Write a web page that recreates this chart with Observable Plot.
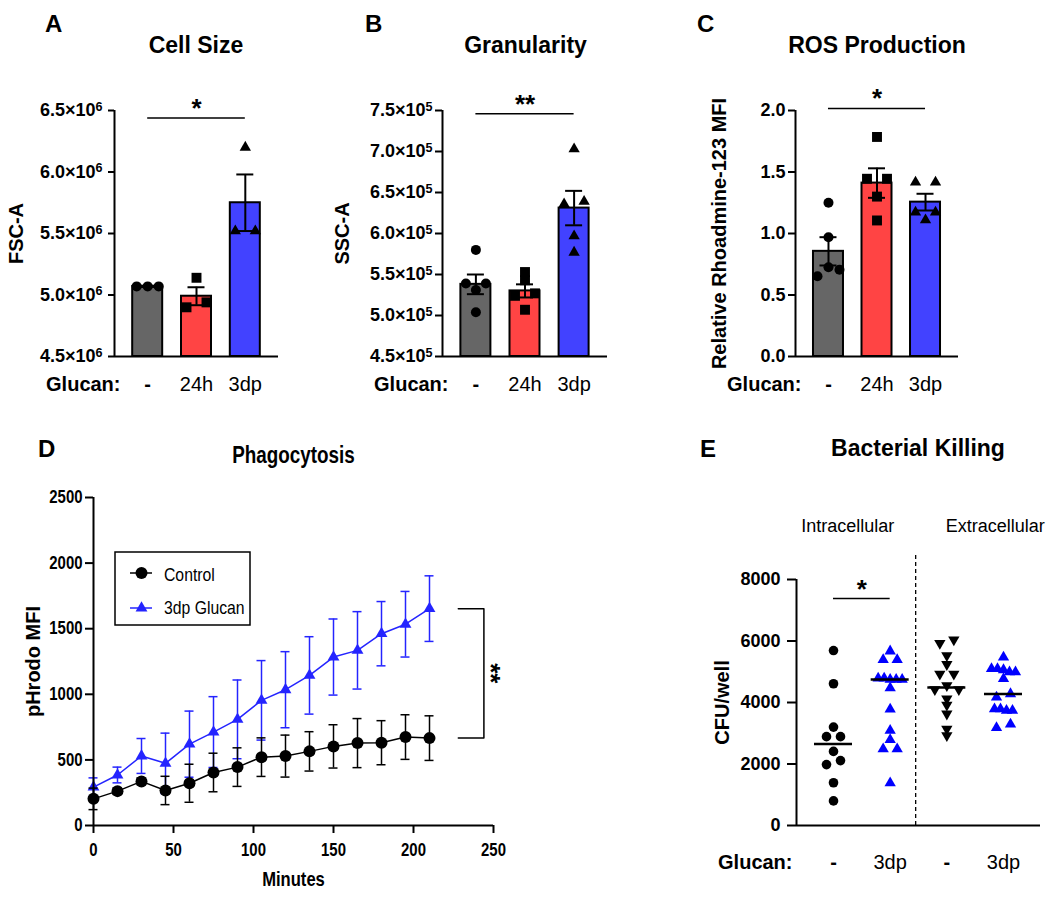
<!DOCTYPE html>
<html><head><meta charset="utf-8">
<script src="https://cdn.jsdelivr.net/npm/d3@7"></script>
<script src="https://cdn.jsdelivr.net/npm/@observablehq/plot@0.6"></script>
<style>
body{margin:0;background:#fff;}
#fig{position:relative;width:1050px;height:897px;background:#fff;overflow:hidden;}
#fig svg{position:absolute;}
</style>
</head><body><div id="fig"></div>
<script>
// ---------- DATA ----------
const CAT3 = ["-", "24h", "3dp"];
// A: Cell Size (FSC-A)
const fscMean = [5.07e6, 4.99e6, 5.75e6];
const fscSem = [0.005e6, 0.073e6, 0.23e6];
const fscCtrl = [5.07e6, 5.07e6, 5.07e6];
const fsc24h = [5.14e6, 4.94e6, 4.90e6];
const fsc3dp = [6.20e6, 5.52e6, 5.52e6];
const fscTicks = [4.5e6, 5.0e6, 5.5e6, 6.0e6, 6.5e6];
// B: Granularity (SSC-A)
const sscMean = [5.38e5, 5.30e5, 6.31e5];
const sscSem = [0.12e5, 0.08e5, 0.21e5];
const sscCtrl = [5.80e5, 5.39e5, 5.39e5, 5.31e5, 5.04e5];
const ssc24h = [5.53e5, 5.43e5, 5.27e5, 5.24e5, 5.07e5];
const ssc3dp = [7.03e5, 6.39e5, 6.36e5, 5.97e5, 5.77e5];
const sscTicks = [4.5e5, 5.0e5, 5.5e5, 6.0e5, 6.5e5, 7.0e5, 7.5e5];
// C: ROS Production
const rosMean = [0.855, 1.41, 1.255];
const rosSem = [0.115, 0.12, 0.068];
const rosCtrl = [1.25, 0.97, 0.726, 0.653, 0.705];
const ros24h = [1.785, 1.445, 1.445, 1.30, 1.106];
const ros3dp = [1.417, 1.417, 1.173, 1.173, 1.11];
const rosTicks = [0, 0.5, 1.0, 1.5, 2.0];
// D: Phagocytosis
const minutes = [0, 15, 30, 45, 60, 75, 90, 105, 120, 135, 150, 165, 180, 195, 210];
const ctrlMean = [203, 262, 336, 267, 322, 404, 445, 521, 529, 565, 603, 628, 631, 674, 666];
const ctrlSem = [82, 25, 25, 108, 145, 147, 147, 147, 160, 150, 165, 187, 168, 170, 170];
const gluMean = [292, 385, 530, 474, 620, 712, 809, 954, 1035, 1144, 1284, 1335, 1462, 1534, 1653];
const gluSem = [71, 60, 133, 230, 252, 270, 300, 303, 290, 295, 290, 295, 245, 250, 250];
const dTicksX = [0, 50, 100, 150, 200, 250];
const dTicksY = [0, 500, 1000, 1500, 2000, 2500];
// E: Bacterial Killing
const E_CATS = ["-", "3dp", "-", "3dp"];
const intraCtrl = [5690, 4610, 3200, 2890, 2890, 2410, 2110, 1980, 1390, 800];
const intraGlucan = [5670, 5390, 5390, 4790, 4790, 4750, 4750, 4750, 4470, 3780, 3090, 2790, 2490, 2490, 1380];
const extraCtrl = [6040, 5930, 5530, 5240, 4930, 4930, 4550, 4420, 4420, 4120, 3920, 3630, 3140, 2930];
const extraGlucan = [5470, 5100, 5100, 5060, 4990, 4990, 4770, 4280, 4170, 3790, 3790, 3740, 3740, 3290, 3180];
const eTicks = [0, 2000, 4000, 6000, 8000];

// ---------- STYLE ----------
const FONT = '"Liberation Sans", Arial, Helvetica, sans-serif';
const BAR_COLORS = ["#666666", "#ff4444", "#4242ff"];
const D_BLUE = "#2424ff";
const E_BLUE = "#0000ff";
const NARROW_K = 0.83; // horizontal condensation of panel D texts
const fig = document.getElementById("fig");

const triangleDown = {
  draw(context, size) {
    const y = -Math.sqrt(size / (Math.sqrt(3) * 3));
    context.moveTo(0, -y * 2);
    context.lineTo(-Math.sqrt(3) * y, y);
    context.lineTo(Math.sqrt(3) * y, y);
    context.closePath();
  }
};

// horizontal spreading of overlapping points (pixel offsets)
function swarm(values, pxPerVal, thresh, pairGap, tripleGap, denseGap) {
  const idx = values.map((v, i) => i).sort((a, b) => values[b] - values[a]);
  const off = new Array(values.length).fill(0);
  const clusters = [];
  let cur = [idx[0]];
  for (let k = 1; k < idx.length; k++) {
    if ((values[idx[k - 1]] - values[idx[k]]) * pxPerVal < thresh) cur.push(idx[k]);
    else { clusters.push(cur); cur = [idx[k]]; }
  }
  clusters.push(cur);
  for (const c of clusters) {
    const n = c.length;
    if (n === 2) { off[c[0]] = pairGap; off[c[1]] = -pairGap; }
    else if (n === 3) { off[c[0]] = 0; off[c[1]] = tripleGap; off[c[2]] = -tripleGap; }
    else if (n > 3) c.forEach((j, m) => off[j] = (m - (n - 1) / 2) * denseGap);
  }
  return off;
}

function supTicks(svg) {
  svg.querySelectorAll("text").forEach(t => {
    if (t.textContent.includes("^")) {
      const [a, b] = t.textContent.split("^");
      t.textContent = a;
      const ts = document.createElementNS("http://www.w3.org/2000/svg", "tspan");
      ts.setAttribute("dy", "-0.45em");
      ts.setAttribute("font-size", "0.7em");
      ts.textContent = b;
      t.appendChild(ts);
    }
  });
}

// squeeze horizontal (non-rotated) texts around their anchor point (element must be in the DOM)
function condense(svg, s) {
  svg.querySelectorAll("text").forEach(t => {
    const tr = t.getAttribute("transform") || "";
    if (tr.includes("rotate")) return;
    const bb = t.getBBox();
    const anchor = getComputedStyle(t).textAnchor;
    const cx = anchor === "end" ? bb.x + bb.width : anchor === "middle" ? bb.x + bb.width / 2 : bb.x;
    t.setAttribute("transform", `${tr} translate(${cx},0) scale(${s},1) translate(${-cx},0)`);
  });
}

function place(svg, left, top) {
  svg.style.left = left + "px";
  svg.style.top = top + "px";
  fig.appendChild(svg);
}

// ---------- BAR PANELS (A, B, C) ----------
function barPanel(o) {
  const xd = [-0.68, 2.68];
  const iw = o.width - o.ml - o.mr, ih = o.height - o.mt - o.mb;
  const kx = iw / (xd[1] - xd[0]), ky = ih / (o.yd[1] - o.yd[0]);
  const bars = CAT3.map((g, i) => ({i, g, mean: o.means[i], sem: o.sems[i], fill: BAR_COLORS[i]}));
  const symbols = ["circle", "square", "triangle"];
  const radii = [5, 5.6, 4.2];
  const dotMarks = o.points.map((arr, i) => {
    const off = swarm(arr, ky, 6.5, 10, 11, 8);
    return Plot.dot(arr.map((v, j) => ({x: i + off[j] / kx, v})),
      {x: "x", y: "v", symbol: symbols[i], r: radii[i], fill: "black", stroke: "none"});
  });
  const svg = Plot.plot({
    width: o.width, height: o.height,
    marginLeft: o.ml, marginRight: o.mr, marginTop: o.mt, marginBottom: o.mb,
    style: {fontFamily: FONT, background: "transparent", overflow: "visible"},
    x: {domain: xd, axis: null},
    y: {domain: o.yd},
    color: {type: "identity"},
    marks: [
      Plot.rect(bars, {x1: d => d.i - 15 / kx, x2: d => d.i + 15 / kx, y1: o.yd[0], y2: "mean",
        fill: "fill", stroke: "black", strokeWidth: 2}),
      Plot.ruleX(bars, {x: "i", y1: d => d.mean - d.sem, y2: d => d.mean + d.sem, stroke: "black", strokeWidth: 2}),
      Plot.ruleY(bars, {y: d => d.mean + d.sem, x1: d => d.i - 8.5 / kx, x2: d => d.i + 8.5 / kx, stroke: "black", strokeWidth: 2}),
      Plot.ruleY(bars, {y: d => d.mean - d.sem, x1: d => d.i - 8.5 / kx, x2: d => d.i + 8.5 / kx, stroke: "black", strokeWidth: 2}),
      ...dotMarks,
      Plot.ruleX([xd[0]], {stroke: "black", strokeWidth: 2}),
      Plot.ruleY([o.yd[0]], {stroke: "black", strokeWidth: 2}),
      Plot.axisY({ticks: o.ticks, tickFormat: o.fmt, tickSize: o.tickSize, tickPadding: o.tickPad,
        fontSize: 18, fontWeight: "bold", fontFamily: FONT, strokeWidth: 2, label: null}),
      Plot.text(bars.filter(d => d.g === "-"), {x: "i", y: o.yd[0], text: "g", dy: 34, lineAnchor: "bottom",
        fontSize: 20, fontWeight: "bold", fontFamily: FONT}),
      Plot.text(bars.filter(d => d.g !== "-"), {x: "i", y: o.yd[0], text: "g", dy: 34, lineAnchor: "bottom",
        fontSize: 20, fontFamily: FONT}),
      Plot.text(["Glucan:"], {frameAnchor: "bottom-left", dx: 6, dy: 34, textAnchor: "end", lineAnchor: "bottom",
        fontSize: 20, fontWeight: "bold", fontFamily: FONT}),
      Plot.ruleY([o.sigY], {x1: 0, x2: 2, stroke: "black", strokeWidth: 1.5}),
      Plot.text([o.sigText], {x: 1, y: o.sigY, text: d => d, dy: o.sigDy, lineAnchor: "bottom",
        fontSize: 26, fontWeight: "bold", fontFamily: FONT}),
      Plot.text([o.ylabel], {frameAnchor: "left", textAnchor: "middle", rotate: -90, dx: o.ylabelDx, text: d => d,
        fontSize: 20, fontWeight: "bold", fontFamily: FONT})
    ]
  });
  supTicks(svg);
  return svg;
}

place(barPanel({
  width: 340, height: 410, ml: 114, mr: 62, mt: 110, mb: 54,
  yd: [4.5e6, 6.5e6], ticks: fscTicks, fmt: d => (d / 1e6).toFixed(1) + "×10^6",
  tickSize: 6, tickPad: 6,
  means: fscMean, sems: fscSem, points: [fscCtrl, fsc24h, fsc3dp],
  sigY: 6.44e6, sigText: "*", sigDy: -1, ylabel: "FSC-A", ylabelDx: -98
}), 0, 0);

place(barPanel({
  width: 340, height: 410, ml: 102, mr: 73, mt: 110, mb: 54,
  yd: [4.5e5, 7.5e5], ticks: sscTicks, fmt: d => (d / 1e5).toFixed(1) + "×10^5",
  tickSize: 7, tickPad: 3,
  means: sscMean, sems: sscSem, points: [sscCtrl, ssc24h, ssc3dp],
  sigY: 7.46e5, sigText: "**", sigDy: -1, ylabel: "SSC-A", ylabelDx: -100
}), 340, 0);

place(barPanel({
  width: 370, height: 410, ml: 115, mr: 92, mt: 110, mb: 54,
  yd: [0, 2.0], ticks: rosTicks, fmt: d3.format(".1f"),
  tickSize: 7, tickPad: 3,
  means: rosMean, sems: rosSem, points: [rosCtrl, ros24h, ros3dp],
  sigY: 2.016, sigText: "*", sigDy: -2, ylabel: "Relative Rhoadmine-123 MFI", ylabelDx: -76
}), 680, 0);

// ---------- PANEL D ----------
(function () {
  const W = 640, H = 477, ml = 93, mr = 147, mt = 77, mb = 72;
  const kx = (W - ml - mr) / 250;
  const cap = 4.5 / kx;
  const dCtrl = minutes.map((t, i) => ({t, m: ctrlMean[i], s: ctrlSem[i]}));
  const dGlu = minutes.map((t, i) => ({t, m: gluMean[i], s: gluSem[i]}));
  const lastT = minutes[minutes.length - 1];
  const gEnd = gluMean[gluMean.length - 1], cEnd = ctrlMean[ctrlMean.length - 1];
  const bracket = [
    {x: lastT + 18, y: gEnd}, {x: lastT + 34, y: gEnd},
    {x: lastT + 34, y: cEnd}, {x: lastT + 18, y: cEnd}
  ];
  const errMarks = (data, color) => [
    Plot.ruleX(data, {x: "t", y1: d => d.m - d.s, y2: d => d.m + d.s, stroke: color, strokeWidth: 1.5}),
    Plot.ruleY(data, {y: d => d.m + d.s, x1: d => d.t - cap, x2: d => d.t + cap, stroke: color, strokeWidth: 1.5}),
    Plot.ruleY(data, {y: d => d.m - d.s, x1: d => d.t - cap, x2: d => d.t + cap, stroke: color, strokeWidth: 1.5})
  ];
  const svg = Plot.plot({
    width: W, height: H, marginLeft: ml, marginRight: mr, marginTop: mt, marginBottom: mb,
    style: {fontFamily: FONT, background: "transparent", overflow: "visible"},
    x: {domain: [0, 250]},
    y: {domain: [0, 2500]},
    marks: [
      ...errMarks(dGlu, D_BLUE),
      Plot.line(dGlu, {x: "t", y: "m", stroke: D_BLUE, strokeWidth: 1.5}),
      Plot.dot(dGlu, {x: "t", y: "m", symbol: "triangle", r: 4.4, fill: D_BLUE, stroke: "none"}),
      ...errMarks(dCtrl, "black"),
      Plot.line(dCtrl, {x: "t", y: "m", stroke: "black", strokeWidth: 1.5}),
      Plot.dot(dCtrl, {x: "t", y: "m", r: 6, fill: "black", stroke: "none"}),
      Plot.ruleX([0], {stroke: "black", strokeWidth: 2}),
      Plot.ruleY([0], {stroke: "black", strokeWidth: 2}),
      Plot.axisX({ticks: dTicksX, tickFormat: d3.format("d"), tickSize: 8, tickPadding: 10, fontSize: 18,
        fontWeight: "bold", fontFamily: FONT, strokeWidth: 2, label: null}),
      Plot.axisY({ticks: dTicksY, tickFormat: d3.format("d"), tickSize: 8, tickPadding: 3, fontSize: 18,
        fontWeight: "bold", fontFamily: FONT, strokeWidth: 2, label: null}),
      Plot.line(bracket, {x: "x", y: "y", stroke: "black", strokeWidth: 1.5}),
      Plot.text(["**"], {x: lastT + 38, y: (gEnd + cEnd) / 2, rotate: 90, text: d => d,
        fontSize: 26, fontWeight: "bold", fontFamily: FONT}),
      Plot.text(["Minutes"], {frameAnchor: "bottom", dy: 60, lineAnchor: "bottom", text: d => d,
        fontSize: 20, fontWeight: "bold", fontFamily: FONT}),
      Plot.text(["pHrodo MFI"], {frameAnchor: "left", textAnchor: "middle", rotate: -90, dx: -60, text: d => d,
        fontSize: 20, fontWeight: "bold", fontFamily: FONT})
    ]
  });
  place(svg, 0, 420);
  condense(svg, NARROW_K);
})();

// ---------- PANEL E ----------
(function () {
  const W = 390, H = 477, ml = 136, mr = 10, mt = 159, mb = 72;
  const xd = [-0.653, 3.653], yd = [0, 8000];
  const kx = (W - ml - mr) / (xd[1] - xd[0]);
  const ky = (H - mt - mb) / (yd[1] - yd[0]);
  const groups = [intraCtrl, intraGlucan, extraCtrl, extraGlucan];
  const symbols = ["circle", "triangle", triangleDown, "triangle"];
  const colors = ["black", E_BLUE, "black", E_BLUE];
  const radii = [4.8, 4.2, 4.2, 4.2];
  const dotMarks = groups.map((arr, i) => {
    const off = swarm(arr, ky, 6, 7, 12, 6);
    return Plot.dot(arr.map((v, j) => ({x: i + off[j] / kx, v})),
      {x: "x", y: "v", symbol: symbols[i], r: radii[i], fill: colors[i], stroke: "none"});
  });
  const medians = groups.map((arr, i) => ({i, m: d3.median(arr)}));
  const cats = E_CATS.map((g, i) => ({g, i}));
  const svg = Plot.plot({
    width: W, height: H, marginLeft: ml, marginRight: mr, marginTop: mt, marginBottom: mb,
    style: {fontFamily: FONT, background: "transparent", overflow: "visible"},
    x: {domain: xd, axis: null},
    y: {domain: yd},
    marks: [
      Plot.ruleX([1.45], {y1: 0, y2: 8780, stroke: "black", strokeWidth: 1.3, strokeDasharray: "4,3"}),
      ...dotMarks,
      Plot.ruleY(medians, {y: "m", x1: d => d.i - 19 / kx, x2: d => d.i + 19 / kx, stroke: "black", strokeWidth: 2.5}),
      Plot.ruleX([xd[0]], {stroke: "black", strokeWidth: 2}),
      Plot.ruleY([0], {stroke: "black", strokeWidth: 2}),
      Plot.axisY({ticks: eTicks, tickFormat: d3.format("d"), tickSize: 9, tickPadding: 7, fontSize: 18,
        fontWeight: "bold", fontFamily: FONT, strokeWidth: 2, label: null}),
      Plot.ruleY([7380], {x1: 0, x2: 1, stroke: "black", strokeWidth: 1.5}),
      Plot.text(["*"], {x: 0.5, y: 7380, text: d => d, dy: -1, lineAnchor: "bottom",
        fontSize: 26, fontWeight: "bold", fontFamily: FONT}),
      Plot.text(cats.filter(d => d.g === "-"), {x: "i", y: 0, text: "g", dy: 43, lineAnchor: "bottom",
        fontSize: 20, fontWeight: "bold", fontFamily: FONT}),
      Plot.text(cats.filter(d => d.g !== "-"), {x: "i", y: 0, text: "g", dy: 43, lineAnchor: "bottom",
        fontSize: 20, fontFamily: FONT}),
      Plot.text(["Glucan:"], {frameAnchor: "bottom-left", dx: -4, dy: 43, textAnchor: "end", lineAnchor: "bottom",
        fontSize: 20, fontWeight: "bold", fontFamily: FONT}),
      Plot.text(["Intracellular"], {x: 0.5, frameAnchor: "top", dx: -14, dy: -48, lineAnchor: "bottom",
        text: d => d, fontSize: 18, fontFamily: FONT}),
      Plot.text(["Extracellular"], {x: 2.5, frameAnchor: "top", dx: 20, dy: -48, lineAnchor: "bottom",
        text: d => d, fontSize: 18, fontFamily: FONT}),
      Plot.text(["CFU/well"], {frameAnchor: "left", textAnchor: "middle", rotate: -90, dx: -74, text: d => d,
        fontSize: 20, fontWeight: "bold", fontFamily: FONT})
    ]
  });
  place(svg, 660, 420);
})();

// ---------- OVERLAY: panel letters, titles, legend ----------
(function () {
  const ov = d3.create("svg").attr("width", 1050).attr("height", 897)
    .style("left", "0px").style("top", "0px").style("pointer-events", "none");
  const letters = [["A", 45, 32], ["B", 365, 32], ["C", 697, 32], ["D", 38, 457], ["E", 700, 457]];
  ov.selectAll("text.l").data(letters).join("text").attr("class", "l")
    .attr("x", d => d[1]).attr("y", d => d[2]).text(d => d[0])
    .attr("font-family", FONT).attr("font-weight", "bold").attr("font-size", 24);
  const titles = [["Cell Size", 196, 53, 1], ["Granularity", 525.5, 53, 1], ["ROS Production", 877, 53, 1],
    ["Phagocytosis", 293.5, 463, 0.82], ["Bacterial Killing", 918, 456, 1]];
  ov.selectAll("text.t").data(titles).join("text").attr("class", "t")
    .attr("transform", d => `translate(${d[1]},${d[2]}) scale(${d[3]},1)`).text(d => d[0])
    .attr("text-anchor", "middle")
    .attr("font-family", FONT).attr("font-weight", "bold").attr("font-size", 23);
  // legend for D
  const lg = ov.append("g");
  lg.append("rect").attr("x", 115).attr("y", 552).attr("width", 135).attr("height", 73)
    .attr("fill", "white").attr("stroke", "black").attr("stroke-width", 1.5);
  const items = [["Control", "black", "circle", 573, 581], ["3dp Glucan", D_BLUE, "triangle", 608, 614]];
  items.forEach(([label, color, sym, y, base]) => {
    lg.append("line").attr("x1", 130).attr("x2", 152).attr("y1", y).attr("y2", y)
      .attr("stroke", color).attr("stroke-width", 1.5);
    if (sym === "circle") lg.append("circle").attr("cx", 141.5).attr("cy", y).attr("r", 6).attr("fill", color);
    else lg.append("path").attr("d", d3.symbol(d3.symbolTriangle, Math.PI * 4.4 * 4.4)())
      .attr("transform", `translate(141.5,${y})`).attr("fill", color);
    lg.append("text").attr("transform", `translate(164,${base}) scale(${NARROW_K},1)`).text(label)
      .attr("font-family", FONT).attr("font-size", 19);
  });
  fig.appendChild(ov.node());
})();
</script>
</body></html>
